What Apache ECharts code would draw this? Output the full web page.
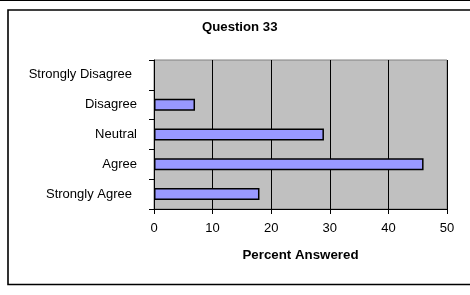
<!DOCTYPE html>
<html>
<head>
<meta charset="utf-8">
<title>Question 33</title>
<script src="https://cdn.jsdelivr.net/npm/echarts@6/dist/echarts.min.js"></script>
<style>
  body { margin: 0; padding: 0; background: #fff; }
  #main { width: 470px; height: 295px; }
</style>
</head>
<body>
<div id="main"></div>
<script>
// answer categories, listed top to bottom as in the picture
var categories = ['Strongly Disagree', 'Disagree', 'Neutral', 'Agree', 'Strongly Agree'];
// percent answered per category
var percents = [0, 7, 29, 46, 18];
var xTicks = [0, 10, 20, 30, 40, 50];

var chart = echarts.init(document.getElementById('main'));

// a zero bar should not leave an outline on the axis
var barData = percents.map(function (v) {
  return v === 0 ? { value: v, itemStyle: { borderWidth: 0 } } : v;
});

var option = {
  animation: false,
  backgroundColor: '#fff',
  textStyle: { fontFamily: 'Liberation Sans, Arial, sans-serif' },
  title: {
    text: 'Question 33',
    left: 202,
    top: 21,
    padding: 0,
    textStyle: { fontSize: 13.2, fontWeight: 'bold', color: '#000' }
  },
  graphic: [
    // thin line across the very top
    { type: 'rect', shape: { x: 0, y: 0, width: 470, height: 1 }, style: { fill: '#000' } },
    // chart frame, right side runs off the picture
    {
      type: 'rect',
      shape: { x: 8, y: 10, width: 500, height: 274.5 },
      style: { fill: 'none', stroke: '#000', lineWidth: 1.6 }
    }
  ],
  grid: {
    left: 154,
    right: 23,
    top: 60,
    bottom: 86,
    show: true,
    backgroundColor: '#C0C0C0',
    borderColor: '#808080',
    borderWidth: 1
  },
  xAxis: {
    type: 'value',
    min: xTicks[0],
    max: xTicks[xTicks.length - 1],
    interval: 10,
    name: 'Percent Answered',
    nameLocation: 'middle',
    nameGap: 40,
    nameTextStyle: { fontSize: 13.3, fontWeight: 'bold', color: '#000' },
    axisLine: { show: true, lineStyle: { color: '#000', width: 1 } },
    axisTick: { show: true, length: 5, lineStyle: { color: '#000' } },
    axisLabel: { color: '#000', fontSize: 13, margin: 13 },
    splitLine: { show: true, lineStyle: { color: '#000', width: 1 } }
  },
  yAxis: {
    type: 'category',
    inverse: true,
    data: categories,
    axisLine: { show: true, lineStyle: { color: '#000', width: 1 } },
    axisTick: { show: true, length: 5, lineStyle: { color: '#000' } },
    axisLabel: {
      color: '#000',
      fontSize: 13,
      margin: 17,
      formatter: function (v) {
        // the long labels sit a little further left
        return v.indexOf('Strongly') === 0 ? '{s|' + v + '}' : v;
      },
      rich: {
        s: { fontSize: 13, color: '#000', padding: [0, 5, 0, 0] }
      }
    },
    splitLine: { show: false }
  },
  series: [
    {
      type: 'bar',
      data: barData,
      barWidth: 12,
      itemStyle: {
        color: '#9999FF',
        borderColor: '#000',
        borderWidth: 1.5
      }
    }
  ]
};

chart.setOption(option);
</script>
</body>
</html>
